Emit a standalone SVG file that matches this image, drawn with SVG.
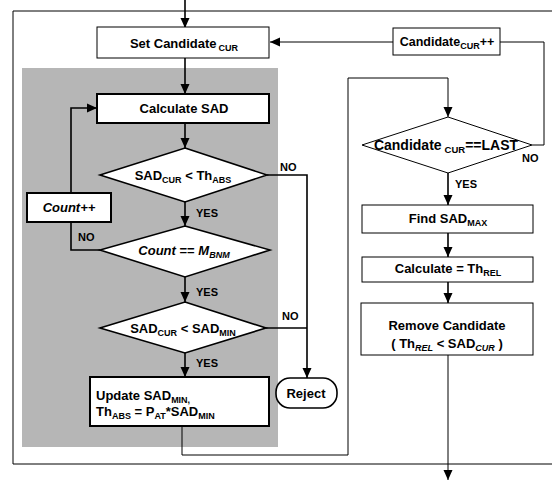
<svg xmlns="http://www.w3.org/2000/svg" width="552" height="482" viewBox="0 0 552 482">
<defs>
<marker id="ah" markerUnits="userSpaceOnUse" markerWidth="10" markerHeight="10" viewBox="0 0 10 10" refX="10" refY="5" orient="auto">
<path d="M0,0.5 L10,5 L0,9.5 Z" fill="#000"/>
</marker>
<style>
text{font-family:"Liberation Sans",Arial,sans-serif;font-weight:bold;font-size:13px;fill:#000}
.c{text-anchor:middle}
.s{font-size:9px}
.lbl{font-size:11px}
.i{font-style:italic}
.box{fill:#fff;stroke:#000;stroke-width:1}
.boxg{fill:#fff;stroke:#000;stroke-width:2}
.dia{fill:#fff;stroke:#000;stroke-width:1.6}
.ln{fill:none;stroke:#000;stroke-width:1}
.lt{fill:none;stroke:#000;stroke-width:1.6}
</style>
</defs>
<rect width="552" height="482" fill="#fff"/>
<!-- frame -->
<path d="M552,11 H13 V464 H552" fill="none" stroke="#000" stroke-width="1"/>
<!-- gray region -->
<rect x="22" y="68" width="256" height="379" fill="#b6b6b6"/>

<g id="connectors">
<line class="lt" x1="185" y1="0" x2="185" y2="28" marker-end="url(#ah)"/>
<line class="lt" x1="185" y1="58" x2="185" y2="94" marker-end="url(#ah)"/>
<line class="ln" x1="393" y1="42" x2="270" y2="42" marker-end="url(#ah)"/>
<polyline class="ln" points="532,145 544,145 544,42 500,42"/>
<line class="lt" x1="185" y1="123" x2="185" y2="148" marker-end="url(#ah)"/>
<line class="lt" x1="185" y1="202" x2="185" y2="226" marker-end="url(#ah)"/>
<line class="lt" x1="185" y1="277" x2="185" y2="302" marker-end="url(#ah)"/>
<line class="lt" x1="185" y1="353" x2="185" y2="377" marker-end="url(#ah)"/>
<polyline class="lt" points="100,250 71,250 71,108 97,108" marker-end="url(#ah)"/>
<polyline class="lt" points="267,175 307,175 307,378" marker-end="url(#ah)"/>
<line class="lt" x1="266" y1="328" x2="307" y2="328"/>
<polyline class="ln" points="182,426 182,455 348,455 348,78 448,78 448,117" marker-end="url(#ah)"/>
<line class="lt" x1="448" y1="173" x2="448" y2="205" marker-end="url(#ah)"/>
<line class="lt" x1="448" y1="233" x2="448" y2="257" marker-end="url(#ah)"/>
<line class="lt" x1="448" y1="282" x2="448" y2="303" marker-end="url(#ah)"/>
<line class="ln" x1="448" y1="355" x2="448" y2="480" marker-end="url(#ah)"/>
</g>

<g id="n-setcand">
<rect class="box" x="97" y="27" width="172" height="31"/>
<text class="c" x="184" y="48">Set Candidate<tspan class="s" dx="2" dy="3">CUR</tspan></text>
</g>
<g id="n-candinc">
<rect class="box" x="393" y="28" width="107" height="27"/>
<text class="c" x="447" y="46" style="font-size:12.5px">Candidate<tspan class="s" dy="3">CUR</tspan><tspan dy="-3">++</tspan></text>
</g>
<g id="n-calcsad">
<rect class="boxg" x="97" y="94" width="172" height="29"/>
<text class="c" x="184" y="113">Calculate SAD</text>
</g>
<g id="n-d1">
<polygon class="dia" points="185,148 267,175 185,202 100,175"/>
<text class="c" x="183" y="180">SAD<tspan class="s" dy="3">CUR</tspan><tspan dy="-3"> &lt; Th</tspan><tspan class="s" dy="3">ABS</tspan></text>
</g>
<g id="n-countinc">
<rect class="boxg" x="27" y="193" width="84" height="29"/>
<text class="c i" x="69" y="212">Count++</text>
</g>
<g id="n-d2">
<polygon class="dia" points="185,226 270,250 185,277 100,250"/>
<text class="c" x="184" y="255"><tspan class="i">Count</tspan> == <tspan class="i">M</tspan><tspan class="s i" dy="3">BNM</tspan></text>
</g>
<g id="n-d3">
<polygon class="dia" points="185,302 266,328 185,353 100,328"/>
<text class="c" x="183" y="333">SAD<tspan class="s" dy="3">CUR</tspan><tspan dy="-3"> &lt; SAD</tspan><tspan class="s" dy="3">MIN</tspan></text>
</g>
<g id="n-update">
<rect class="boxg" x="90" y="377" width="179" height="49"/>
<text x="96" y="400">Update SAD<tspan class="s" dy="3">MIN,</tspan></text>
<text x="96" y="416">Th<tspan class="s" dy="3">ABS</tspan><tspan dy="-3"> = P</tspan><tspan class="s" dy="3">AT</tspan><tspan dy="-3">*SAD</tspan><tspan class="s" dy="3">MIN</tspan></text>
</g>
<g id="n-reject">
<rect x="276" y="378" width="61" height="30" rx="14" fill="#fff" stroke="#000" stroke-width="1.6"/>
<text class="c" x="306" y="398">Reject</text>
</g>
<g id="n-dlast">
<polygon class="box" points="448,117 532,145 448,173 362,145"/>
<text class="c" x="446" y="150" style="font-size:14px">Candidate<tspan class="s" dx="3" dy="3" style="font-size:9.5px">CUR</tspan><tspan dy="-3">==LAST</tspan></text>
</g>
<g id="n-findmax">
<rect class="box" x="362" y="205" width="171" height="28"/>
<text class="c" x="448" y="223">Find SAD<tspan class="s" dy="3">MAX</tspan></text>
</g>
<g id="n-calcrel">
<rect class="box" x="362" y="257" width="171" height="25"/>
<text class="c" x="448" y="273">Calculate = Th<tspan class="s" dy="3">REL</tspan></text>
</g>
<g id="n-remove">
<rect class="box" x="361" y="303" width="172" height="52"/>
<text class="c" x="447" y="330">Remove Candidate</text>
<text class="c" x="447" y="348">( Th<tspan class="s i" dy="3">REL</tspan><tspan dy="-3"> &lt; SAD</tspan><tspan class="s i" dy="3">CUR</tspan><tspan dy="-3"> )</tspan></text>
</g>

<g id="labels">
<text class="lbl" x="196" y="217">YES</text>
<text class="lbl" x="196" y="296">YES</text>
<text class="lbl" x="196" y="367">YES</text>
<text class="lbl" x="455" y="188">YES</text>
<text class="lbl" x="280" y="171">NO</text>
<text class="lbl" x="78" y="241">NO</text>
<text class="lbl" x="282" y="320">NO</text>
<text class="lbl" x="522" y="162">NO</text>
</g>
</svg>
